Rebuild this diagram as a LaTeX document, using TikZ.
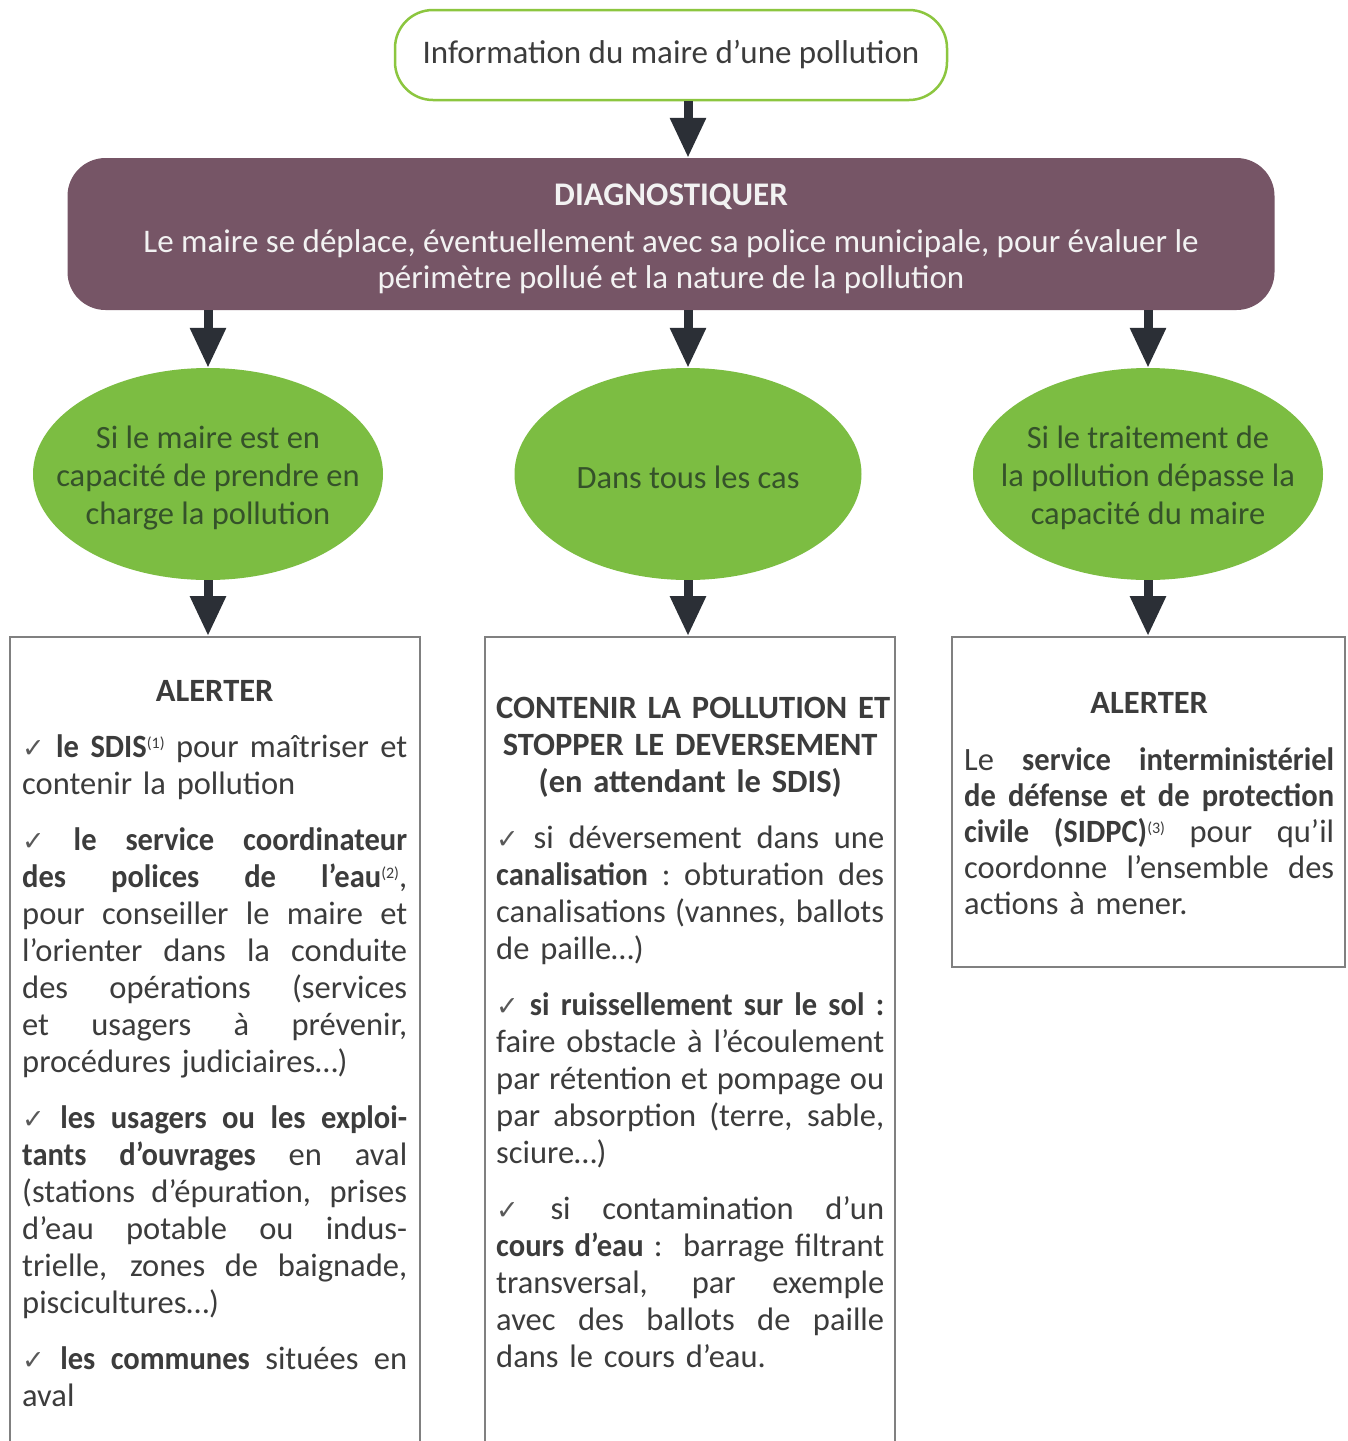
\documentclass[tikz,border=0pt]{standalone}
\usepackage{fontspec}
\setmainfont{Carlito}
\newfontfamily\bcond{Carlito}[FakeStretch=0.94]
\newfontfamily\djv{DejaVu Sans}
\usetikzlibrary{arrows.meta,shapes.geometric}
\definecolor{txt}{HTML}{3C3C3C}
\definecolor{grnline}{HTML}{8CC63F}
\definecolor{ellfill}{HTML}{7CBD42}
\definecolor{elltxt}{HTML}{35522A}
\definecolor{plum}{HTML}{765566}
\definecolor{arr}{HTML}{2B2F36}
\definecolor{boxln}{HTML}{808080}
\newcommand\ck{{\djv\fontsize{27}{27}\selectfont\color{txt!85}✓}}
\newcommand\bd[1]{{\bcond\bfseries #1}}
\newcommand\sups[1]{\raisebox{9pt}{\fontsize{16}{16}\selectfont(#1)}}
\newcommand\jl[1]{\par\hbox to\hsize{\spaceskip=\fontdimen2\font plus 1fil\relax\xspaceskip=\spaceskip #1}}
\newcommand\lln[1]{\par\hbox to\hsize{#1\hfil}}
\newcommand\cln[1]{\par\hbox to\hsize{\hfil#1\hfil}}
\newcommand\pgap{\par\vskip19pt}
\begin{document}
\begin{tikzpicture}[x=1pt,y=-1pt,
  infobox/.style={draw=grnline,line width=2.5pt,rounded corners=38pt,minimum width=552pt,minimum height=90pt,
    text=txt,font=\fontsize{33}{37}\selectfont,inner sep=0pt},
  diagbox/.style={fill=plum,rounded corners=38pt,minimum width=1207pt,minimum height=152pt,inner sep=0pt},
  diagtext/.style={text=white!95!black,font=\fontsize{33}{36}\selectfont,align=center,inner sep=0pt},
  ellbox/.style={ellipse,fill=ellfill,minimum width=350pt,minimum height=212pt,inner sep=0pt},
  elltext/.style={text=elltxt,font=\fontsize{32.5}{38}\selectfont,align=center,inner sep=0pt},
  panel/.style={draw=boxln,line width=2pt,anchor=north,inner sep=0pt},
  paneltext/.style={anchor=north west,inner sep=0pt,text=txt,font=\fontsize{32.5}{37}\selectfont},
  flow/.style={draw=arr,line width=9pt,-{Triangle[width=34pt,length=40pt]}}
]
\useasboundingbox (0,0) rectangle (1348,1441);
\fill[white] (0,0) rectangle (1348,1441);

\node[infobox] (info) at (671,55) {Information du maire d'une pollution};
\node[diagbox] (diag) at (671,234) {};
\node[diagtext] (diagt) at (671,239) {\textbf{DIAGNOSTIQUER}\\[11pt]Le maire se déplace, éventuellement avec sa police municipale, pour évaluer le\\périmètre pollué et la nature de la pollution};

\node[ellbox] (e1) at (208,474) {};
\node[ellbox,minimum width=347pt] (e2) at (688,474) {};
\node[ellbox] (e3) at (1148,474) {};
\node[elltext] (e1t) at (e1.center) [yshift=-4pt] {Si le maire est en\\capacité de prendre en\\charge la pollution};
\node[elltext] (e2t) at (e2.center) [yshift=-3pt] {Dans tous les cas};
\node[elltext] (e3t) at (e3.center) [yshift=-4pt] {Si le traitement de\\la pollution dépasse la\\capacité du maire};

\node[panel,minimum width=410pt,minimum height=840pt] (b1) at (215,636) {};
\node[panel,minimum width=410pt,minimum height=840pt] (b2) at (690,636) {};
\node[panel,minimum width=393pt,minimum height=330pt] (b3) at (1148.5,636) {};

\node[paneltext,text width=385pt] (t1) at (22,664) {%
\cln{\textbf{ALERTER}}\pgap
\jl{\ck\ \bd{le SDIS}\sups{1} pour maîtriser et}
\lln{contenir la pollution}\pgap
\jl{\ck\ \bd{le service coordinateur}}
\jl{\bd{des polices de l’eau}\sups{2},}
\jl{pour conseiller le maire et}
\jl{l’orienter dans la conduite}
\jl{des opérations (services}
\jl{et usagers à prévenir,}
\lln{procédures judiciaires…)}\pgap
\jl{\ck\ \bd{les usagers ou les exploi-}}
\jl{\bd{tants d’ouvrages} en aval}
\jl{(stations d’épuration, prises}
\jl{d’eau potable ou indus-}
\jl{trielle, zones de baignade,}
\lln{piscicultures…)}\pgap
\jl{\ck\ \bd{les communes} situées en}
\lln{aval}};

\node[paneltext,text width=388pt] (t2) at (496,681) {%
\cln{\textbf{CONTENIR LA POLLUTION ET}}
\cln{\textbf{STOPPER LE DEVERSEMENT}}
\cln{\textbf{(en attendant le SDIS)}}\pgap
\jl{\ck\ si déversement dans une}
\jl{\bd{canalisation} : obturation des}
\jl{canalisations (vannes, ballots}
\lln{de paille…)}\pgap
\jl{\ck\ \bd{si ruissellement sur le sol :}}
\jl{faire obstacle à l’écoulement}
\jl{par rétention et pompage ou}
\jl{par absorption (terre, sable,}
\lln{sciure…)}\pgap
\jl{\ck\ si contamination d’un}
\jl{\bd{cours d’eau} :\ \ barrage filtrant}
\jl{transversal, par exemple}
\jl{avec des ballots de paille}
\lln{dans le cours d’eau.}};

\node[paneltext,text width=370pt,font=\fontsize{32.5}{36}\selectfont] (t3) at (964,677) {%
\cln{\textbf{ALERTER}}\par\vskip21pt
\jl{Le \bd{service interministériel}}
\jl{\bd{de défense et de protection}}
\jl{\bd{civile (SIDPC)}\sups{3} pour qu’il}
\jl{coordonne l’ensemble des}
\lln{actions à mener.}};

\draw[flow] (info.south -| e2) -- (diag.north -| e2);
\draw[flow] (diag.south -| e1) -- (e1.north);
\draw[flow] (diag.south -| e2) -- (e2.north);
\draw[flow] (diag.south -| e3) -- (e3.north);
\draw[flow] (e1.south) -- (e1.south |- b1.north);
\draw[flow] (e2.south) -- (e2.south |- b2.north);
\draw[flow] (e3.south) -- (e3.south |- b3.north);
\end{tikzpicture}
\end{document}
